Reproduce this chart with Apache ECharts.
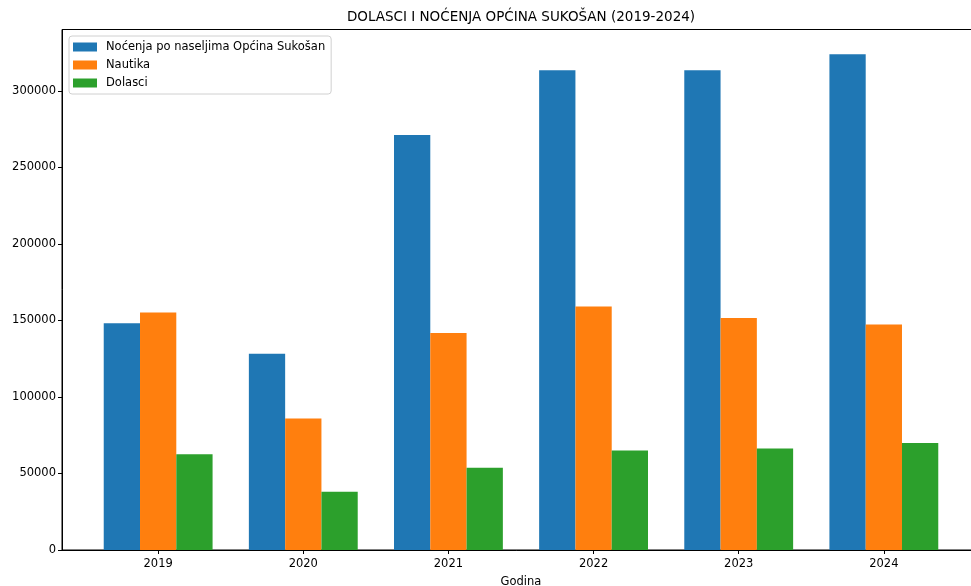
<!DOCTYPE html>
<html>
<head>
<meta charset="utf-8">
<title>Dolasci i noćenja</title>
<script src="https://cdn.jsdelivr.net/npm/echarts@6/dist/echarts.min.js"></script>
<style>
  html, body { margin: 0; padding: 0; background: #fff; }
  #chart { width: 971px; height: 586px; }
</style>
</head>
<body>
<div id="chart"></div>
<script>
// podaci po godinama
const years = ['2019', '2020', '2021', '2022', '2023', '2024'];
const nocenja = [148200, 128300, 271100, 313500, 313500, 323900];
const nautika = [155200, 85900, 141800, 159100, 151600, 147400];
const dolasci = [62600, 38000, 53800, 65000, 66400, 69900];
const yTicks = [0, 50000, 100000, 150000, 200000, 250000, 300000];

const FONT = '"DejaVu Sans", sans-serif';
const xIdx = years.map((y, i) => i);
const toPoints = arr => arr.map((v, i) => [i, v]);

// matplotlib margine: 5% oko podataka
const yMax = Math.max(...nocenja, ...nautika, ...dolasci) * 1.05;
const xMin = -0.375 - 0.05 * 5.75;
const xMax = 5.375 + 0.05 * 5.75;

const chart = echarts.init(document.getElementById('chart'));

const option = {
  animation: false,
  textStyle: { fontFamily: FONT },
  graphic: [
    {
      type: 'text',
      x: 521,
      y: 17,
      style: {
        text: 'DOLASCI I NOĆENJA OPĆINA SUKOŠAN (2019-2024)',
        font: '13.5px ' + FONT,
        fill: '#000',
        align: 'center',
        verticalAlign: 'middle'
      }
    }
  ],
  legend: {
    orient: 'vertical',
    left: 69,
    top: 36,
    padding: [5, 6, 5, 4],
    itemWidth: 24,
    itemHeight: 9,
    itemGap: 6,
    icon: 'rect',
    backgroundColor: '#fff',
    borderColor: '#d0d0d0',
    borderWidth: 1,
    borderRadius: 3,
    textStyle: { fontSize: 11.5, color: '#000', fontFamily: FONT, padding: [0, 0, 0, 4] },
    data: ['Noćenja po naseljima Općina Sukošan', 'Nautika', 'Dolasci']
  },
  grid: {
    left: 62,
    right: -9,
    top: 29.5,
    bottom: 36,
    outerBoundsMode: 'none',
    containLabel: false,
    show: true,
    borderColor: '#000',
    borderWidth: 1
  },
  xAxis: {
    type: 'value',
    min: xMin,
    max: xMax,
    name: 'Godina',
    nameLocation: 'middle',
    nameGap: 26,
    nameTextStyle: { fontSize: 11.5, color: '#000' },
    axisLine: { show: true, onZero: false, lineStyle: { color: '#000', width: 1 } },
    axisTick: { show: true, customValues: xIdx, length: 4, lineStyle: { color: '#000' } },
    axisLabel: {
      customValues: xIdx,
      formatter: v => years[Math.round(v)],
      fontSize: 11.5,
      color: '#000',
      margin: 8
    },
    splitLine: { show: false }
  },
  yAxis: {
    type: 'value',
    min: 0,
    max: yMax,
    name: '.',
    nameLocation: 'middle',
    nameRotate: 90,
    nameGap: 55,
    nameTextStyle: { fontSize: 11.5, color: '#000' },
    axisLine: { show: true, onZero: false, lineStyle: { color: '#000', width: 1 } },
    axisTick: { show: true, customValues: yTicks, length: 4, lineStyle: { color: '#000' } },
    axisLabel: {
      customValues: yTicks,
      formatter: v => String(v),
      fontSize: 11.5,
      color: '#000',
      margin: 6
    },
    splitLine: { show: false }
  },
  series: [
    {
      name: 'Noćenja po naseljima Općina Sukošan',
      type: 'bar',
      barWidth: '25%',
      barGap: '0%',
      itemStyle: { color: '#1f77b4' },
      data: toPoints(nocenja)
    },
    {
      name: 'Nautika',
      type: 'bar',
      barWidth: '25%',
      barGap: '0%',
      itemStyle: { color: '#ff7f0e' },
      data: toPoints(nautika)
    },
    {
      name: 'Dolasci',
      type: 'bar',
      barWidth: '25%',
      barGap: '0%',
      itemStyle: { color: '#2ca02c' },
      data: toPoints(dolasci)
    }
  ]
};

chart.setOption(option);
</script>
</body>
</html>
